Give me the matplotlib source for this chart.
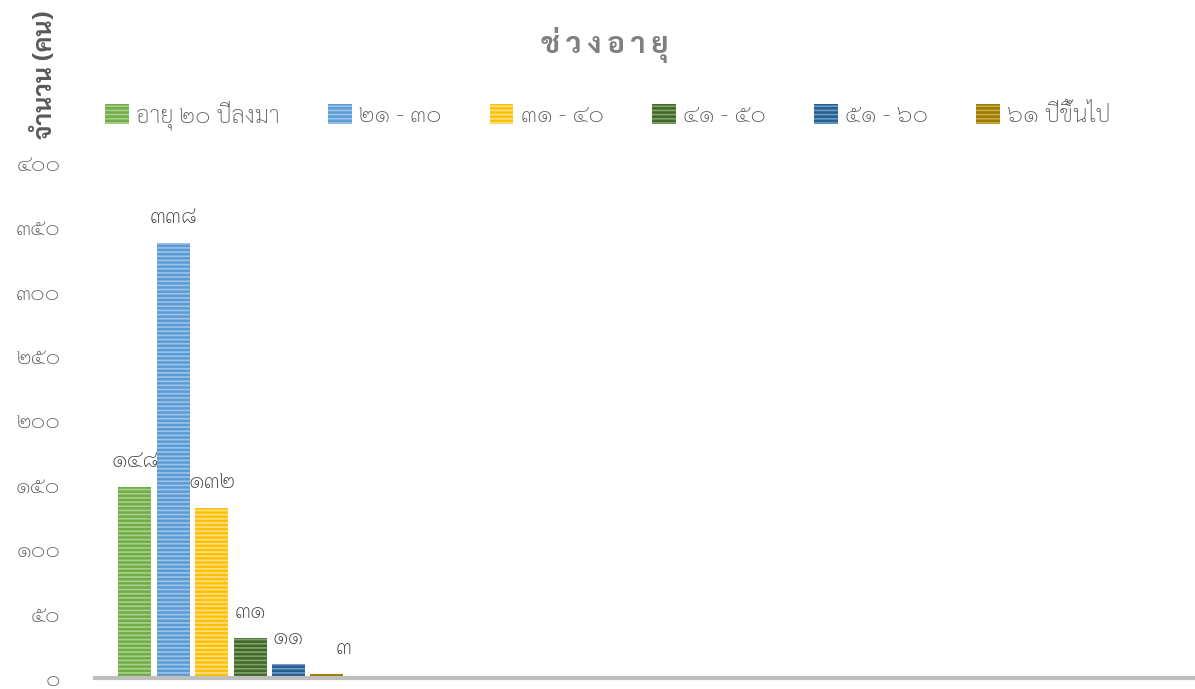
import matplotlib
matplotlib.use("Agg")
import matplotlib.pyplot as plt
import numpy as np

plt.rcParams['font.family'] = ['Sarabun', 'Loma', 'DejaVu Sans']
plt.rcParams['font.weight'] = 'light'
plt.rcParams['hatch.linewidth'] = 1.2

# ข้อมูล
title = "ช่วงอายุ"
ylabel = "จำนวน (คน)"
groups = ["อายุ ๒๐ ปีลงมา", "๒๑ - ๓๐", "๓๑ - ๔๐", "๔๑ - ๕๐", "๕๑ - ๖๐", "๖๑ ปีขึ้นไป"]
values = [148, 338, 132, 31, 11, 3]
value_labels = ["๑๔๘", "๓๓๘", "๑๓๒", "๓๑", "๑๑", "๓"]
yticks = [0, 50, 100, 150, 200, 250, 300, 350, 400]
ytick_labels = ["๐", "๕๐", "๑๐๐", "๑๕๐", "๒๐๐", "๒๕๐", "๓๐๐", "๓๕๐", "๔๐๐"]

colors = ["#70AD47", "#5B9BD5", "#FFC000", "#43682B", "#255E91", "#9E7B00"]
stripes = ["#A9D08E", "#9DC3E6", "#FFE08A", "#7FA36A", "#6F9CC6", "#C9AC4C"]

fig = plt.figure(figsize=(11.95, 6.89), dpi=100)
ax = fig.add_axes([95/1195, 11/689, 1100/1195, 515/689])

x = np.arange(len(values))
for i in range(len(values)):
    ax.bar(x[i], values[i], width=0.86, color=colors[i], edgecolor=stripes[i],
           hatch="----", linewidth=0, label=groups[i])

for i in range(len(values)):
    dx = 12 if i == len(values) - 1 else 0
    ax.annotate(value_labels[i], (x[i], values[i]), xytext=(dx, 11),
                textcoords="offset points", ha="center", va="bottom",
                fontsize=17, color="#404040")

ax.set_xlim(-1.04, 27.6)
ax.set_ylim(0, 400)
ax.set_yticks(yticks)
ax.set_yticklabels(ytick_labels, fontsize=16, color="#595959")
ax.set_xticks([])
ax.tick_params(axis="y", length=0, pad=25)
for s in ["top", "right", "left"]:
    ax.spines[s].set_visible(False)
ax.spines["bottom"].set_color("#BFBFBF")
ax.spines["bottom"].set_linewidth(3)

# ระยะห่างตัวอักษรของชื่อกราฟ
spaced_title = "\u2009".join(["ช่", "ว", "ง", "อ", "า", "ยุ"])
fig.text(605/1195, 1 - 45/689, spaced_title, ha="center", va="center",
         fontsize=21, fontweight="bold", color="#808080")
fig.text(45/1195, 1 - 75/689, ylabel, ha="center", va="center", rotation=90,
         fontsize=18, fontweight="bold", color="#595959")

fig.legend(loc="center left", bbox_to_anchor=(84/1195, 1 - 115/689), ncol=6,
           frameon=False, prop={"size": 17, "weight": "light"}, handlelength=1.0,
           handleheight=0.9, handletextpad=0.3, columnspacing=2.05,
           labelcolor="#595959")

fig.savefig("out.png", dpi=100)
